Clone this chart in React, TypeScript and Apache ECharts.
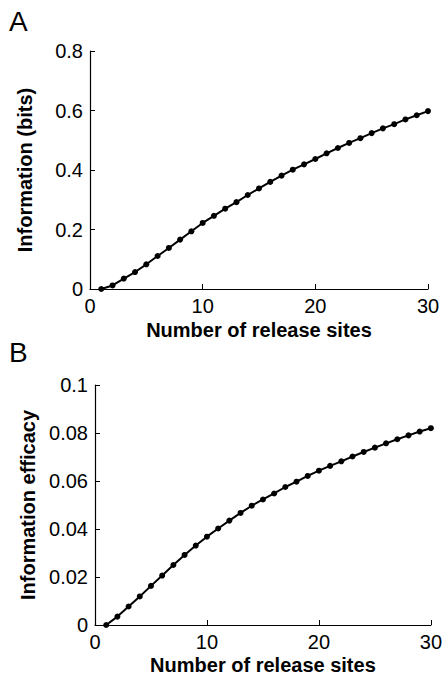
import React, { useEffect, useRef } from "react";
import * as echarts from "echarts";

const sites = [1, 2, 3, 4, 5, 6, 7, 8, 9, 10, 11, 12, 13, 14, 15, 16, 17, 18, 19, 20, 21, 22, 23, 24, 25, 26, 27, 28, 29, 30];
const information = [0, 0.012, 0.035, 0.057, 0.083, 0.111, 0.138, 0.166, 0.194, 0.222, 0.246, 0.27, 0.292, 0.316, 0.338, 0.36, 0.381, 0.401, 0.419, 0.437, 0.456, 0.474, 0.491, 0.507, 0.524, 0.54, 0.554, 0.57, 0.584, 0.598];
const efficacy = [0, 0.0035, 0.0077, 0.0119, 0.0163, 0.0206, 0.025, 0.0292, 0.0331, 0.0368, 0.0402, 0.0435, 0.0467, 0.0497, 0.0523, 0.0548, 0.0575, 0.0597, 0.0621, 0.0643, 0.0663, 0.0682, 0.0702, 0.0721, 0.0739, 0.0757, 0.0774, 0.079, 0.0806, 0.082];
const panelLetters = ["A", "B"];
const xTitle = "Number of release sites";
const yTitles = ["Information (bits)", "Information efficacy"];

const FONT = "'Liberation Sans', Arial, Helvetica, sans-serif";

export default function App() {
  const ref = useRef<HTMLDivElement>(null);
  useEffect(() => {
    document.body.style.margin = "0";
    const chart = echarts.init(ref.current!, null, { renderer: "svg" });
    const axisLine = { show: true, lineStyle: { color: "#000", width: 1.2 } };
    const axisTick = { show: true, inside: true, length: 5, lineStyle: { color: "#000" } };
    const axisLabel = { color: "#000", fontSize: 20, fontFamily: FONT, margin: 7 };
    const nameStyle = { color: "#000", fontSize: 20, fontWeight: "bold" as const, fontFamily: FONT };
    const xAx = (gridIndex: number, gap: number) => ({
      type: "value" as const,
      gridIndex,
      min: 0,
      max: 30,
      interval: 10,
      axisLine,
      axisTick,
      axisLabel,
      splitLine: { show: false },
      name: xTitle,
      nameLocation: "middle" as const,
      nameGap: gap,
      nameTextStyle: nameStyle,
    });
    const mkSeries = (idx: number, vals: number[]) => ({
      type: "line" as const,
      xAxisIndex: idx,
      yAxisIndex: idx,
      data: sites.map((s, i) => [s, vals[i]]),
      symbol: "circle",
      symbolSize: 6,
      showSymbol: true,
      lineStyle: { color: "#000", width: 2 },
      itemStyle: { color: "#000" },
      smooth: false,
    });
    chart.setOption({
      animation: false,
      backgroundColor: "#fff",
      grid: [
        { left: 90, top: 51, width: 338, height: 238 },
        { left: 95, top: 385, width: 338, height: 240 },
      ],
      xAxis: [xAx(0, 31), xAx(1, 30)],
      yAxis: [
        {
          type: "value",
          gridIndex: 0,
          min: 0,
          max: 0.8,
          interval: 0.2,
          axisLine,
          axisTick,
          axisLabel,
          splitLine: { show: false },
          name: yTitles[0],
          nameLocation: "middle",
          nameGap: 55,
          nameTextStyle: nameStyle,
        },
        {
          type: "value",
          gridIndex: 1,
          min: 0,
          max: 0.1,
          interval: 0.02,
          axisLine,
          axisTick,
          axisLabel,
          splitLine: { show: false },
          name: yTitles[1],
          nameLocation: "middle",
          nameGap: 52,
          nameTextStyle: nameStyle,
        },
      ],
      series: [mkSeries(0, information), mkSeries(1, efficacy)],
      graphic: [
        { type: "text", left: 9, top: 7, style: { text: panelLetters[0], fontSize: 28, fontFamily: FONT, fill: "#000" } },
        { type: "text", left: 9, top: 338, style: { text: panelLetters[1], fontSize: 28, fontFamily: FONT, fill: "#000" } },
      ],
    });
    return () => chart.dispose();
  }, []);
  return <div ref={ref} style={{ position: "fixed", left: 0, top: 0, width: 445, height: 676 }} />;
}
